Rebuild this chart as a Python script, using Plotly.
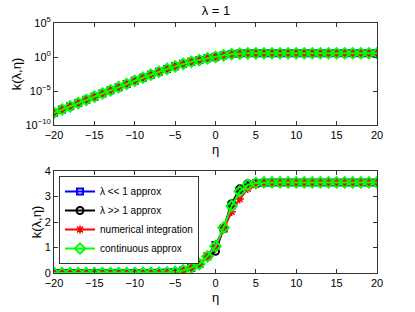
import plotly.graph_objects as go
from plotly.subplots import make_subplots

eta = list(range(-20, 21))

# values (same data drawn on log scale (top) and linear scale (bottom))
k_small_lambda = [6.3e-9, 1.9e-8, 5.6e-8, 1.66e-7, 5.0e-7, 1.48e-6, 4.4e-6, 1.26e-5, 3.7e-5,
                  1.07e-4, 3.2e-4, 8.9e-4, 2.5e-3, 6.8e-3, 0.0174, 0.042, 0.10, 0.20, 0.35, 0.66,
                  1.1, 1.75, 2.65, 3.25, 3.45, 3.52, 3.54, 3.55, 3.55, 3.55, 3.55, 3.55, 3.55,
                  3.55, 3.55, 3.55, 3.55, 3.55, 3.55, 3.55, 3.55]
k_large_lambda = [6.3e-9, 1.9e-8, 5.6e-8, 1.66e-7, 5.0e-7, 1.48e-6, 4.4e-6, 1.26e-5, 3.7e-5,
                  1.07e-4, 3.2e-4, 8.9e-4, 2.5e-3, 6.8e-3, 0.0174, 0.042, 0.10, 0.20, 0.35, 0.64,
                  0.85, 1.75, 2.72, 3.3, 3.5, 3.54, 3.55, 3.55, 3.55, 3.55, 3.55, 3.55, 3.55,
                  3.55, 3.55, 3.55, 3.55, 3.55, 3.55, 3.55, 3.55]
k_numerical = [6.3e-9, 1.9e-8, 5.6e-8, 1.66e-7, 5.0e-7, 1.48e-6, 4.4e-6, 1.26e-5, 3.7e-5,
               1.07e-4, 3.2e-4, 8.9e-4, 2.5e-3, 6.8e-3, 0.0174, 0.042, 0.10, 0.20, 0.36, 0.66,
               1.0, 1.72, 2.4, 2.9, 3.3, 3.45, 3.52, 3.54, 3.55, 3.55, 3.55, 3.55, 3.55,
               3.55, 3.55, 3.55, 3.55, 3.55, 3.55, 3.55, 3.55]
k_continuous = [6.3e-9, 1.9e-8, 5.6e-8, 1.66e-7, 5.0e-7, 1.48e-6, 4.4e-6, 1.26e-5, 3.7e-5,
                1.07e-4, 3.2e-4, 8.9e-4, 2.5e-3, 6.8e-3, 0.0174, 0.042, 0.10, 0.20, 0.35, 0.65,
                1.05, 1.78, 2.63, 3.2, 3.46, 3.53, 3.55, 3.55, 3.55, 3.55, 3.55, 3.55, 3.55,
                3.55, 3.55, 3.55, 3.55, 3.55, 3.55, 3.55, 3.55]

series_names = ["λ << 1 approx", "λ >> 1 approx", "numerical integration", "continuous approx"]
series_values = [k_small_lambda, k_large_lambda, k_numerical, k_continuous]
series_colors = ["#0000ff", "#000000", "#ff0000", "#00ff00"]
series_symbols = ["square-open", "circle-open", "asterisk-open", "diamond-open"]
series_sizes = [6, 7, 7, 8]
series_mlw = [2, 2, 1.5, 2]

title_text = "λ = 1"
log_tickvals = [1e-10, 1e-5, 1, 1e5]
log_ticktext = ["10<sup>−10</sup>", "10<sup>−5</sup>", "10<sup>0</sup>", "10<sup>5</sup>"]

FONT = "Liberation Sans, Arial, sans-serif"

fig = make_subplots(rows=2, cols=1)

for row in (1, 2):
    for name, vals, col, sym, sz, mlw in zip(series_names, series_values, series_colors,
                                             series_symbols, series_sizes, series_mlw):
        fig.add_trace(go.Scatter(
            x=eta, y=vals, name=name, mode="lines+markers",
            line=dict(color=col, width=2),
            marker=dict(symbol=sym, size=sz, color=col, line=dict(color=col, width=mlw)),
            showlegend=(row == 2),
        ), row=row, col=1)

axis_common = dict(
    showline=True, linecolor="#333333", linewidth=1, mirror="ticks",
    ticks="inside", ticklen=4, tickcolor="#333333",
    showgrid=False, zeroline=False, automargin=False,
    tickfont=dict(size=11, color="black", family=FONT),
)

fig.update_xaxes(range=[-20, 20], dtick=5, tick0=0,
                 title=dict(text="η", font=dict(size=13, color="black", family=FONT), standoff=4),
                 **axis_common)
fig.update_yaxes(title=dict(text="k(λ,η)", font=dict(size=13, color="black", family=FONT), standoff=0),
                 **axis_common)

fig.update_yaxes(type="log", range=[-10, 5], tickvals=log_tickvals, ticktext=log_ticktext, row=1, col=1)
fig.update_yaxes(range=[0, 4], dtick=1, row=2, col=1)

fig.update_layout(
    width=415, height=312,
    margin=dict(l=54, r=38, t=23, b=39),
    paper_bgcolor="white", plot_bgcolor="white",
    font=dict(family=FONT, color="black"),
    xaxis=dict(domain=[0, 1]),
    yaxis=dict(domain=[0.592, 1.0]),
    yaxis2=dict(domain=[0.0, 0.408]),
    title=dict(text=title_text, x=216 / 415, xanchor="center", y=1 - 10 / 312, yanchor="middle",
               font=dict(size=13, color="black", family=FONT)),
    legend=dict(x=0.0155, y=0.388, xanchor="left", yanchor="top",
                bgcolor="white", bordercolor="#333333", borderwidth=1,
                font=dict(size=10, color="black", family=FONT),
                itemwidth=30, tracegroupgap=0),
)

fig.write_html("out.html", config={"displayModeBar": False},
               post_script="document.body.style.margin='0';")
